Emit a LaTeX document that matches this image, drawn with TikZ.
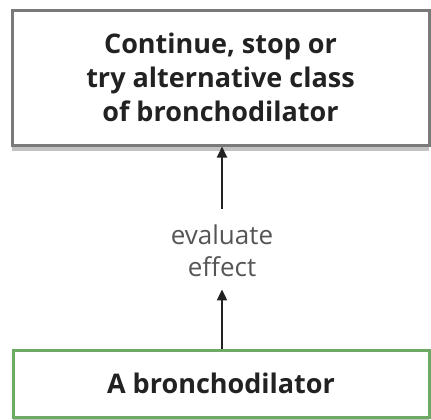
\documentclass[tikz,border=0pt]{standalone}
\usepackage{fontspec}
\setmainfont{Open Sans}
\usepackage{xcolor}
\usetikzlibrary{arrows.meta,positioning,shadows}
\definecolor{cInk}{HTML}{222222}
\definecolor{cFrame}{HTML}{7A7A7A}
\definecolor{cGreen}{HTML}{6DAA63}
\definecolor{cNote}{HTML}{555555}
\tikzset{
  box/.style   = {draw=cFrame, line width=1.5pt, fill=white, align=center,
                  text=cInk, font=\fontsize{13.5}{17}\selectfont\bfseries,
                  drop shadow={shadow xshift=0pt, shadow yshift=-3pt,
                               opacity=.4, fill=black!60}},
  outcome/.style = {box, minimum width=208.5pt, minimum height=67.5pt},
  start/.style   = {box, draw=cGreen, minimum width=208pt, minimum height=33.5pt},
  flow/.style  = {-{Triangle[length=5.5pt, width=5pt]}, line width=1pt, draw=cInk},
  note/.style  = {font=\fontsize{13}{16}\selectfont, text=cNote, align=center},
}
\begin{document}
\begin{tikzpicture}[x=0.5pt, y=-0.5pt]
  \useasboundingbox (0,0) rectangle (431,419);
  \node[outcome] (cont) at (220.5,77.5)
    {Continue, stop or\\ try alternative class\\ of bronchodilator};
  \node[start] (bron) at (221,383.5) {A bronchodilator};
  \node[note, inner sep=0pt] (eval) at (222,251) {evaluate\\ effect};
  \draw[flow, shorten <=8pt] (eval.north) -- (cont.south -| eval.north);
  \draw[flow, shorten >=6pt] (bron.north -| eval.south) -- (eval.south);
\end{tikzpicture}
\end{document}
